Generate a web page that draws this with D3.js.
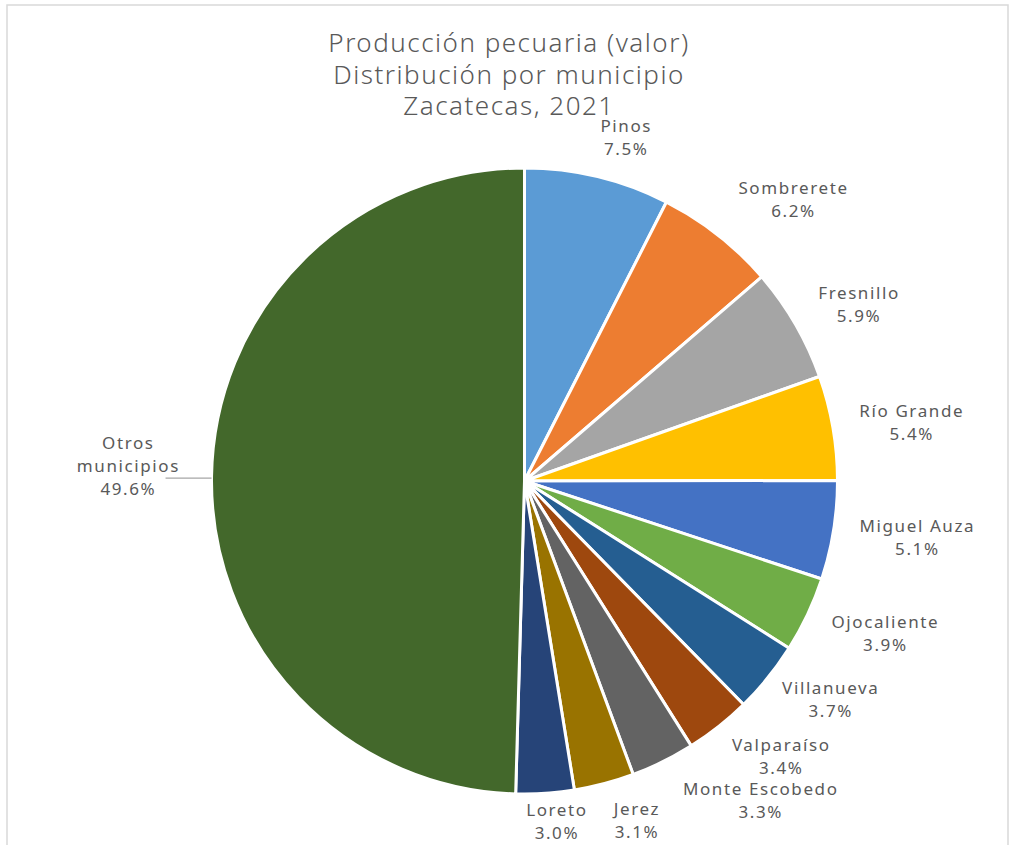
<!DOCTYPE html>
<html><head><meta charset="utf-8">
<script src="https://cdn.jsdelivr.net/npm/d3@7"></script>
<style>
html,body{margin:0;padding:0;background:#fff;}
svg{display:block;}
text{font-family:"Noto Sans","Open Sans",sans-serif;fill:#595959;}
</style></head>
<body><svg id="c" width="1009" height="845"></svg>
<script>
const titleLines = ["Producción pecuaria (valor)", "Distribución por municipio", "Zacatecas, 2021"];
const categories = [["Pinos"],["Sombrerete"],["Fresnillo"],["Río Grande"],["Miguel Auza"],["Ojocaliente"],["Villanueva"],["Valparaíso"],["Monte Escobedo"],["Jerez"],["Loreto"],["Otros","municipios"]];
const values = [7.5, 6.2, 5.9, 5.4, 5.1, 3.9, 3.7, 3.4, 3.3, 3.1, 3.0, 49.6];
const colors = ["#5B9BD5","#ED7D31","#A5A5A5","#FFC000","#4472C4","#70AD47","#255E91","#9E480E","#636363","#997300","#264478","#43682B"];
// label box offsets from the slice's outer mid point (layout only)
const labelOffsets = [[28,-39],[75,-35],[63,-20],[78,-5],[83,7],[77,19],[62,22],[62,30],[97,39],[32,37],[11,28],[-84,-11]];

const svg = d3.select("#c");
svg.append("rect").attr("x",7).attr("y",5).attr("width",1001).attr("height",900)
  .attr("fill","#fff").attr("stroke","#d9d9d9").attr("stroke-width",1.5);

titleLines.forEach((l,i)=> svg.append("text").attr("text-anchor","middle")
  .style("font-size","26px").style("font-weight",300).style("letter-spacing","1.5px")
  .attr("x",509).attr("y",52+i*31.5).text(l));

const cx = 524.5, cy = 481, r = 313;
const pie = d3.pie().sort(null).value(d=>d);
const arcs = pie(values);
const arc = d3.arc().innerRadius(0).outerRadius(r);
const g = svg.append("g").attr("transform",`translate(${cx},${cy})`);
g.selectAll("path").data(arcs).join("path")
  .attr("d",arc).attr("fill",(d,i)=>colors[i])
  .attr("stroke","#fff").attr("stroke-width",3).attr("stroke-linejoin","round");

const fmt = d3.format(".1f");
arcs.forEach((d,i)=>{
  const a = (d.startAngle+d.endAngle)/2;
  const ox = r*Math.sin(a), oy = -r*Math.cos(a);
  const lx = ox + labelOffsets[i][0] + 0.8, ly = oy + labelOffsets[i][1];
  const lines = categories[i].concat([fmt(values[i])+"%"]);
  const lh = 23;
  const txt = g.append("text").attr("text-anchor","middle").style("font-size","17px").style("letter-spacing","1.6px");
  lines.forEach((l,j)=>{
    txt.append("tspan").attr("x",lx).attr("y",ly + (j-(lines.length-1)/2)*lh).attr("dy","0.36em").text(l);
  });
  if (categories[i].length>1){
    g.append("line").attr("x1",ox).attr("y1",oy+1.5).attr("x2",ox-46).attr("y2",oy+1.5)
      .attr("stroke","#a6a6a6").attr("stroke-width",1.2);
  }
});
</script></body></html>
